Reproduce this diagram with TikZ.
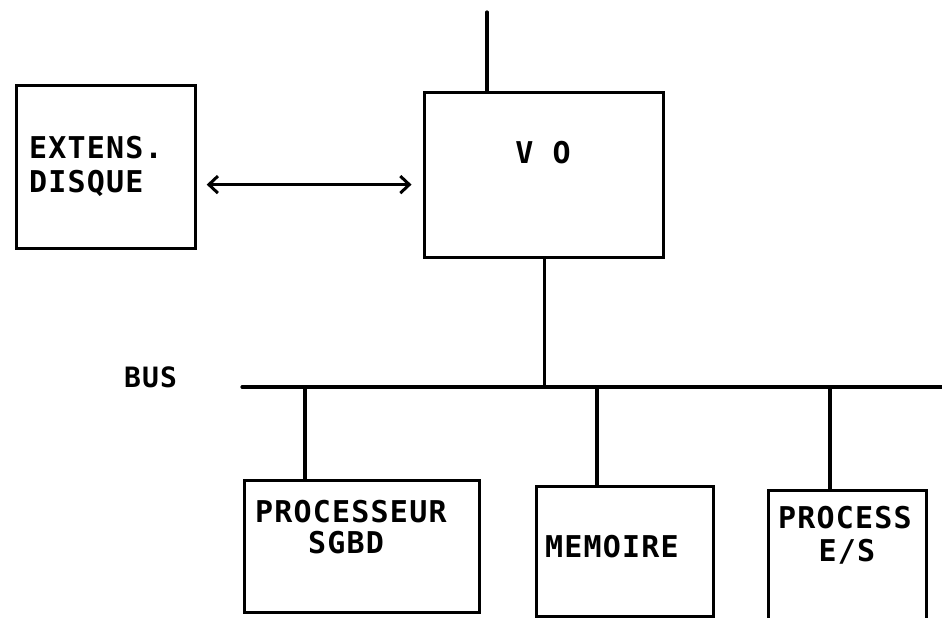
\documentclass[tikz,border=0pt]{standalone}
\usepackage{fontspec}
\newfontfamily\dmono[LetterSpace=4]{DejaVu Sans Mono}
\usetikzlibrary{arrows.meta}
\begin{document}
\begin{tikzpicture}[x=1pt,y=-1pt,
  wire/.style={line width=3.2pt, line cap=round},
  box/.style={draw, line width=3.2pt, inner sep=0pt, anchor=north west},
  txt/.style={inner sep=0pt, font=\dmono\bfseries\fontsize{30}{30}\selectfont},
  dbl/.style={line width=3pt, {Straight Barb[length=9pt,width=17pt]}-{Straight Barb[length=9pt,width=17pt]}}]
\useasboundingbox (0,0) rectangle (942,618);
\clip (0,0) rectangle (942,618);
% boxes
\node[box, minimum width=179pt, minimum height=163pt] (ext) at (15,84) {};
\node[box, minimum width=239pt, minimum height=165pt] (vo) at (423,91) {};
\node[box, minimum width=235pt, minimum height=132pt] (sgbd) at (243,479) {};
\node[box, minimum width=177pt, minimum height=130pt] (mem) at (535,485) {};
\node[box, minimum width=158pt, minimum height=150pt] (pes) at (767,489) {};
% texts
\node[txt, anchor=base west] (t1) at (29,158) {EXTENS.};
\node[txt, anchor=base west] (t2) at (29,192) {DISQUE};
\node[txt, anchor=base] (t3) at (543,163) {V O};
\node[txt, anchor=base west] (t4) at (255,522) {PROCESSEUR};
\node[txt, anchor=base] (t5) at (346,553) {SGBD};
\node[txt, anchor=base west] (t6) at (545,557) {MEMOIRE};
\node[txt, anchor=base west] (t7) at (778,528) {PROCESS};
\node[txt, anchor=base] (t8) at (847,561) {E/S};
\node[txt, anchor=base west, font=\dmono\bfseries\fontsize{28}{28}\selectfont] (bus) at (124,387) {BUS};
% bus line
\coordinate (busL) at (242,387);
\coordinate (busR) at (950,387);
\draw[wire] (busL) -- (busR);
% top line of V O
\coordinate (vtop) at (487,12);
\draw[wire] (vtop) -- (vtop |- vo.north);
% V O to bus
\draw[wire] (vo.south) -- (vo.south |- busL);
% drops
\coordinate (b1) at (305,387);
\coordinate (b2) at (597,387);
\coordinate (b3) at (830,387);
\draw[wire] (b1) -- (b1 |- sgbd.north);
\draw[wire] (b2) -- (b2 |- mem.north);
\draw[wire] (b3) -- (b3 |- pes.north);
% double arrow
\path (ext.east) ++(9.5,17.5) coordinate (al);
\path (vo.west) ++(-11.5,9.5) coordinate (ar);
\draw[dbl] (al) -- (ar);
\end{tikzpicture}
\end{document}
